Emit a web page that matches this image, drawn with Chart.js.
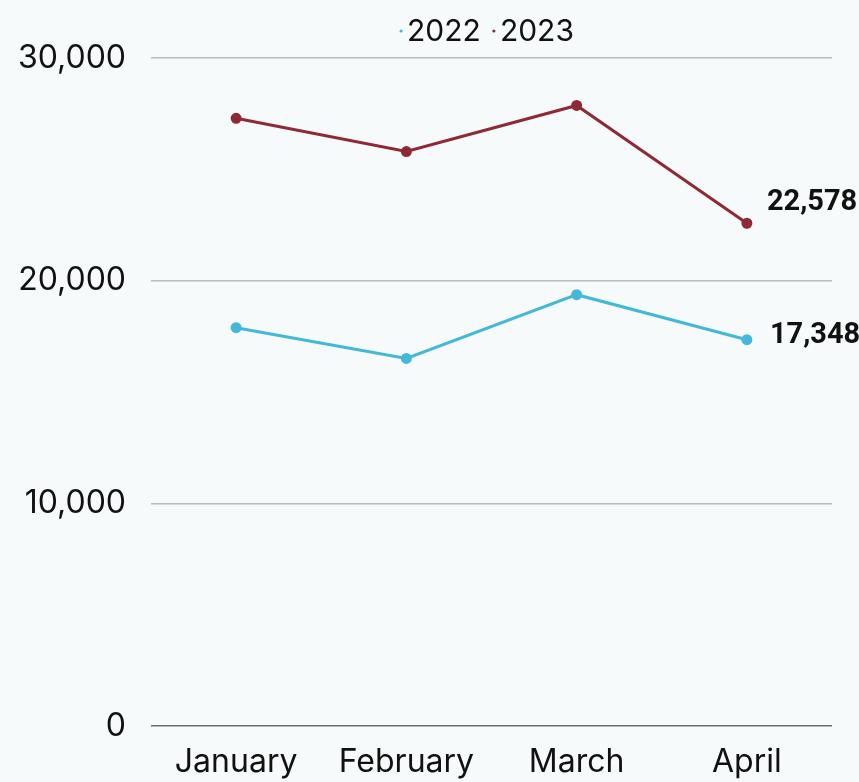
<!DOCTYPE html>
<html>
<head>
<meta charset="utf-8">
<script src="https://cdn.jsdelivr.net/npm/chart.js@4"></script>
<style>
  html, body { margin: 0; padding: 0; background: #f6fafb; }
  #wrap { width: 859px; height: 782px; }
</style>
</head>
<body>
<div id="wrap"><canvas id="sales-chart"></canvas></div>
<script>
// Dados
const months = ['January', 'February', 'March', 'April'];
const sales2022 = [17890, 16510, 19370, 17348];
const sales2023 = [27290, 25800, 27870, 22578];
const yTicks = [0, 10000, 20000, 30000];

const fmt = v => v.toLocaleString('en-US');
const tickFont = { family: 'Inter', size: 32 };
const legendFont = { family: 'Inter', size: 30 };

// Legenda compacta: ponto pequeno colado ao texto, centralizada sobre a área do gráfico
const dotLegend = {
    id: 'dotLegend',
    afterDraw(chart) {
        const ctx = chart.ctx;
        const area = chart.chartArea;
        const gapDot = 6, gapItem = 13;
        ctx.save();
        ctx.font = legendFont.size + 'px ' + legendFont.family;
        ctx.textBaseline = 'middle';
        ctx.textAlign = 'left';
        const items = chart.data.datasets.map(ds => ({
            text: ds.label,
            color: ds.borderColor,
            w: ctx.measureText(ds.label).width
        }));
        let total = 0;
        items.forEach((it, i) => { total += gapDot + it.w + (i ? gapItem : 0); });
        let x = (area.left + area.right) / 2 - total / 2 - 4;
        const y = 31;
        items.forEach((it, i) => {
            if (i) x += gapItem;
            ctx.fillStyle = it.color;
            ctx.beginPath();
            ctx.arc(x, y, 1.6, 0, Math.PI * 2);
            ctx.fill();
            x += gapDot;
            ctx.fillStyle = '#111';
            ctx.fillText(it.text, x, y + 1);
            x += it.w;
        });
        ctx.restore();
    }
};

// Rótulo de valor só no último ponto de cada série
const lastValueLabel = {
    id: 'lastValueLabel',
    afterDatasetsDraw(chart) {
        const ctx = chart.ctx;
        ctx.save();
        ctx.font = 'bold 29px Roboto';
        ctx.fillStyle = '#111';
        ctx.textAlign = 'left';
        ctx.textBaseline = 'middle';
        chart.data.datasets.forEach((ds, i) => {
            const meta = chart.getDatasetMeta(i);
            const last = ds.data.length - 1;
            const pt = meta.data[last];
            ctx.fillText(fmt(ds.data[last]), pt.x + ds.labelDx, pt.y + ds.labelDy);
        });
        ctx.restore();
    }
};

const salesChart = document.getElementById('sales-chart');

new Chart(salesChart, {
    type: 'line',
    data: {
        labels: months,
        datasets: [{
            label: '2022',
            data: sales2022,
            borderColor: '#44b8d8',
            backgroundColor: '#44b8d8',
            borderWidth: 3,
            pointRadius: 4,
            labelDx: 23,
            labelDy: -4
        },
        {
            label: '2023',
            data: sales2023,
            borderColor: '#8e2a35',
            backgroundColor: '#8e2a35',
            borderWidth: 3,
            pointRadius: 4,
            labelDx: 20,
            labelDy: -21
        }]
    },
    options: {
        responsive: true,
        maintainAspectRatio: false,
        animation: false,
        layout: { padding: { left: 0, right: 27, top: 58, bottom: 0 } },
        plugins: {
            legend: { display: false },
            tooltip: { enabled: false }
        },
        scales: {
            x: {
                offset: true,
                grid: { display: false, drawTicks: false },
                border: { display: false },
                afterFit(axis) { axis.height = 56; },
                ticks: {
                    color: '#111',
                    padding: 17,
                    font: tickFont
                }
            },
            y: {
                min: 0,
                max: 30000,
                afterBuildTicks(axis) {
                    axis.ticks = yTicks.map(v => ({ value: v }));
                },
                afterFit(axis) { axis.width = 151; },
                grid: {
                    drawTicks: false,
                    lineWidth: 1.5,
                    color: c => c.tick.value === 0 ? '#6c6c6c' : '#b9bbbc'
                },
                border: { display: false },
                ticks: {
                    color: '#111',
                    padding: 25,
                    font: tickFont,
                    callback: v => fmt(v)
                }
            }
        }
    },
    plugins: [lastValueLabel, dotLegend]
});
</script>
</body>
</html>
